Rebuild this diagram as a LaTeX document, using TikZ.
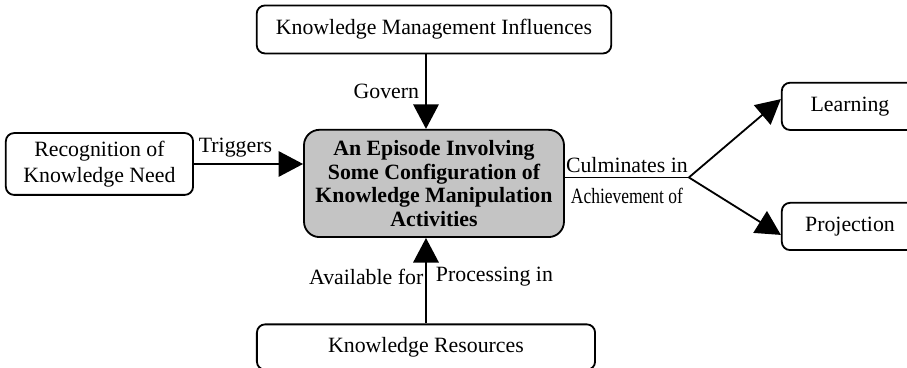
\documentclass[tikz,border=0pt]{standalone}
\usepackage{fontspec}
\setmainfont{Liberation Serif}
\usepackage{graphicx}
\usetikzlibrary{arrows.meta,calc,positioning}
\definecolor{episodeColor}{RGB}{196,196,196}
\definecolor{boxColor}{RGB}{255,255,255}
\tikzset{box/.style={draw, fill=boxColor, align=center, line width=1pt, rounded corners=.16cm, font=\fontsize{12}{14}\selectfont, inner sep=2pt}}
\tikzset{episode/.style={box, fill=episodeColor, rounded corners=.3cm, font=\fontsize{12}{12.9}\selectfont\bfseries}}
\tikzstyle{arrow} = [line width=1pt, -{Triangle[length=13.5pt, width=14pt]}]

\begin{document}
\begin{tikzpicture}[node distance=41pt and 60pt, font=\fontsize{12}{14}\selectfont]
	\useasboundingbox (-238.7pt,-101.5pt) rectangle (260.15pt,100.9pt);
	% Nodes
	\node (episode) [episode, minimum width=143pt, minimum height=59pt] {An Episode Involving\\ Some Configuration of\\ Knowledge Manipulation\\ Activities};
	\node (influences) [box, minimum width=195pt, minimum height=26.4pt, above=41pt of episode] {Knowledge Management Influences};
	\node (need) [box, minimum width=103pt, minimum height=34pt, left=60pt of episode, yshift=10.7pt] {Recognition of\\ Knowledge Need};
	\node (resources) [box, minimum width=186pt, minimum height=25pt, below=47pt of episode, xshift=-4.4pt] {Knowledge Resources};

	\node (learning) [box, minimum width=75pt, minimum height=26pt, right=118.8pt of episode, yshift=42.4pt] {Learning};
	\node (projection) [box, minimum width=75pt, minimum height=26pt, right=118.8pt of episode, yshift=-23.65pt] {Projection};
	\coordinate (split) at ($(episode.east)+(68.2pt,3.3pt)$);

	% Connectors
	\begin{scope}[arrow]
		\draw (influences.south -| resources.north) -- node[left] {Govern} (resources.north |- episode.north);

		\draw (need.east) -- node[above, pos=.38] {Triggers} (need.east -| episode.west);

		\draw (resources.north) -- node[pos=.55, left, inner xsep=1pt] {Available for}
			node[pos=.55, right, inner xsep=5pt] {Processing in} (resources.north |- episode.south);

		\draw [-] (episode.east |- split) -- node[above, inner sep=2pt] {Culminates in}
			node[below, yshift=-2pt] {\scalebox{0.8}[1]{Achievement of}} (split);

		\draw (split) -- (learning.174);
		\draw (split) -- (projection.187);
	\end{scope}

\end{tikzpicture}
\end{document}
